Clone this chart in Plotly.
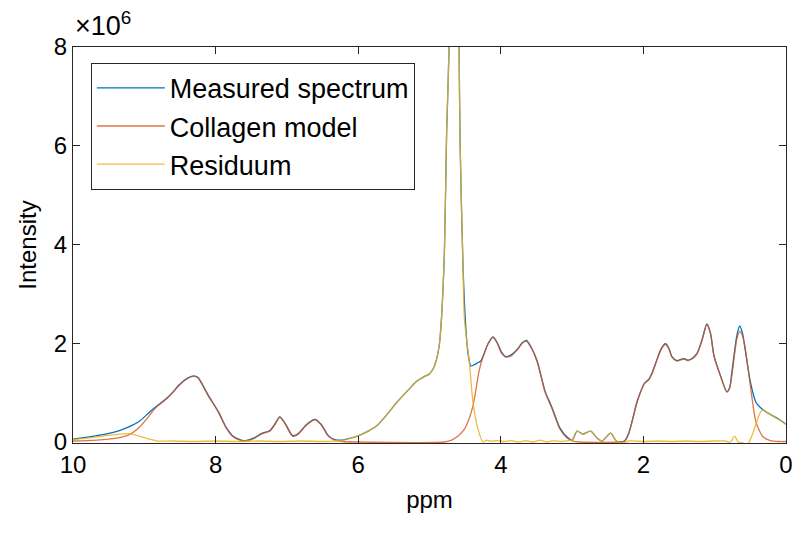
import plotly.graph_objects as go

# ---------------- data (ppm, intensity in units of 1e6) ----------------
model_ppm = [10.0, 9.8, 9.58, 9.35, 9.21, 9.07, 8.93, 8.85, 8.69, 8.60, 8.51, 8.40, 8.31, 8.25,
             8.10, 7.96, 7.85, 7.75, 7.64, 7.58, 7.45, 7.36, 7.24, 7.17, 7.10, 7.03, 6.92, 6.85,
             6.72, 6.61, 6.52, 6.42, 6.33, 6.22, 6.0, 4.80, 4.69, 4.60, 4.51, 4.45, 4.39, 4.35,
             4.31, 4.28, 4.25, 4.18, 4.11, 4.05, 3.99, 3.93, 3.85, 3.76, 3.70, 3.64, 3.57, 3.49,
             3.43, 3.38, 3.28, 3.17, 3.07, 2.99, 2.90, 2.35, 2.26, 2.21, 2.15, 2.10, 2.06, 1.99,
             1.92, 1.87, 1.82, 1.75, 1.69, 1.64, 1.60, 1.53, 1.48, 1.43, 1.38, 1.33, 1.25, 1.18,
             1.11, 1.06, 1.01, 0.92, 0.83, 0.79, 0.76, 0.69, 0.65, 0.61, 0.57, 0.50, 0.42, 0.32,
             0.22, 0.10, 0.0]
model_val = [0.02, 0.03, 0.05, 0.09, 0.15, 0.30, 0.53, 0.68, 0.87, 1.00, 1.15, 1.28, 1.33, 1.30,
             0.93, 0.60, 0.28, 0.10, 0.03, 0.02, 0.08, 0.16, 0.22, 0.35, 0.50, 0.38, 0.12, 0.15,
             0.35, 0.45, 0.35, 0.12, 0.04, 0.01, 0.0, 0.0, 0.04, 0.12, 0.26, 0.45, 0.73, 1.05,
             1.40, 1.58, 1.72, 1.98, 2.12, 2.00, 1.80, 1.72, 1.75, 1.88, 2.00, 2.04, 1.90, 1.62,
             1.30, 1.01, 0.67, 0.26, 0.08, 0.02, 0.0, 0.0, 0.02, 0.15, 0.46, 0.75, 0.93, 1.17,
             1.27, 1.42, 1.62, 1.88, 1.98, 1.88, 1.72, 1.64, 1.66, 1.68, 1.65, 1.67, 1.78, 2.05,
             2.38, 2.20, 1.74, 1.34, 1.01, 1.10, 1.34, 2.08, 2.24, 2.15, 1.88, 1.14, 0.40, 0.10,
             0.03, 0.01, 0.01]

measured_ppm = [10.0, 9.8, 9.58, 9.35, 9.21, 9.07, 8.93, 8.85, 8.69, 8.60, 8.51, 8.40, 8.31, 8.25,
                8.10, 7.96, 7.85, 7.75, 7.64, 7.58, 7.45, 7.36, 7.24, 7.17, 7.10, 7.03, 6.92, 6.85,
                6.72, 6.61, 6.52, 6.42, 6.33, 6.22, 6.10, 6.01, 5.90, 5.74, 5.60, 5.46, 5.30, 5.18,
                5.08, 5.01, 4.95, 4.90, 4.86, 4.83, 4.79, 4.76, 4.72, 4.69, 4.65, 4.61, 4.585, 4.57,
                4.53, 4.49, 4.46, 4.42, 4.38, 4.33, 4.28, 4.25, 4.18, 4.11, 4.05, 3.99, 3.93, 3.85,
                3.76, 3.70, 3.64, 3.57, 3.49, 3.43, 3.38, 3.28, 3.17, 3.07, 3.00, 2.93, 2.85, 2.74,
                2.65, 2.58, 2.46, 2.38, 2.30, 2.26, 2.21, 2.15, 2.10, 2.06, 1.99, 1.92, 1.87, 1.82,
                1.75, 1.69, 1.64, 1.60, 1.53, 1.48, 1.43, 1.38, 1.33, 1.25, 1.18, 1.11, 1.06, 1.01,
                0.92, 0.83, 0.79, 0.76, 0.69, 0.65, 0.61, 0.57, 0.50, 0.42, 0.36, 0.32, 0.22, 0.10,
                0.0]
measured_val = [0.06, 0.10, 0.15, 0.23, 0.31, 0.42, 0.60, 0.70, 0.88, 1.01, 1.16, 1.29, 1.34, 1.31,
                0.94, 0.61, 0.29, 0.11, 0.04, 0.03, 0.09, 0.17, 0.23, 0.36, 0.51, 0.39, 0.13, 0.16,
                0.36, 0.46, 0.36, 0.13, 0.05, 0.04, 0.08, 0.12, 0.19, 0.33, 0.55, 0.80, 1.05, 1.23,
                1.32, 1.37, 1.48, 1.68, 2.00, 2.55, 3.90, 6.26, 8.30, 14.0, 30.0, 14.0, 8.0, 6.0,
                3.56, 2.30, 1.80, 1.54, 1.56, 1.60, 1.64, 1.73, 1.99, 2.13, 2.01, 1.82, 1.73, 1.77,
                1.89, 2.01, 2.06, 1.91, 1.64, 1.31, 1.03, 0.69, 0.28, 0.10, 0.04, 0.22, 0.16, 0.22,
                0.08, 0.02, 0.18, 0.02, 0.0, 0.03, 0.16, 0.47, 0.76, 0.94, 1.18, 1.28, 1.43, 1.63,
                1.89, 1.99, 1.89, 1.73, 1.65, 1.67, 1.69, 1.66, 1.68, 1.79, 2.06, 2.39, 2.21, 1.75,
                1.35, 1.02, 1.10, 1.40, 2.15, 2.35, 2.20, 1.85, 1.22, 0.80, 0.70, 0.65, 0.56, 0.46,
                0.36]

resid_ppm = [10.0, 9.8, 9.58, 9.35, 9.21, 9.07, 8.93, 8.82, 8.6, 8.3, 8.0, 7.7, 7.4, 7.1, 6.8,
             6.5, 6.33, 6.22, 6.10, 6.01, 5.90, 5.74, 5.60, 5.46, 5.30, 5.18, 5.08, 5.01, 4.95,
             4.90, 4.86, 4.83, 4.79, 4.76, 4.72, 4.69, 4.65, 4.61, 4.585, 4.57, 4.53, 4.51, 4.44,
             4.39, 4.32, 4.25, 4.20, 4.15, 4.05, 3.95, 3.85, 3.75, 3.65, 3.55, 3.45, 3.35, 3.25,
             3.15, 3.05, 3.00, 2.93, 2.85, 2.74, 2.65, 2.58, 2.46, 2.38, 2.30, 2.20, 2.0, 1.8,
             1.6, 1.4, 1.2, 1.0, 0.85, 0.78, 0.72, 0.67, 0.60, 0.56, 0.50, 0.46, 0.40, 0.36,
             0.32, 0.28, 0.21, 0.10, 0.0]
resid_val = [0.05, 0.08, 0.12, 0.16, 0.17, 0.12, 0.06, 0.02, 0.02, 0.01, 0.02, 0.01, 0.02, 0.01,
             0.02, 0.01, 0.02, 0.03, 0.08, 0.12, 0.19, 0.33, 0.55, 0.80, 1.05, 1.23, 1.32, 1.37,
             1.48, 1.68, 2.00, 2.55, 3.90, 6.26, 8.30, 14.0, 30.0, 14.0, 8.0, 6.0, 3.56, 2.48,
             1.60, 0.80, 0.26, 0.0, 0.04, 0.02, 0.03, 0.01, 0.03, 0.0, 0.03, 0.0, 0.04, 0.0,
             0.03, 0.01, 0.03, 0.04, 0.22, 0.16, 0.22, 0.08, 0.02, 0.18, 0.02, -0.02, 0.02, 0.01,
             0.02, 0.01, 0.02, 0.01, 0.02, 0.02, 0.0, 0.12, 0.0, -0.02, -0.10, 0.05, 0.20, 0.45,
             0.60, 0.65, 0.62, 0.55, 0.45, 0.36]

x_ticks = [0, 2, 4, 6, 8, 10]
y_ticks = [0, 2, 4, 6, 8]

# ---------------- figure ----------------
FONT = "Liberation Sans, Arial, Helvetica, sans-serif"
AX = "#262626"
LINE = dict(width=1.3, shape="spline", smoothing=0.7)

fig = go.Figure()
fig.add_trace(go.Scatter(x=measured_ppm, y=measured_val, mode="lines",
                         name="Measured spectrum",
                         line=dict(color="#0072BD", **LINE)))
fig.add_trace(go.Scatter(x=model_ppm, y=model_val, mode="lines",
                         name="Collagen model", opacity=0.8,
                         line=dict(color="#D95319", **LINE)))
fig.add_trace(go.Scatter(x=resid_ppm, y=resid_val, mode="lines",
                         name="Residuum", opacity=0.85,
                         line=dict(color="#EDB120", **LINE)))

fig.update_layout(
    width=804, height=533,
    margin=dict(l=73, r=11, t=47, b=90),
    paper_bgcolor="white", plot_bgcolor="white",
    font=dict(family=FONT, size=24, color="black"),
    showlegend=True,
    legend=dict(x=0.025, y=0.96, xanchor="left", yanchor="top",
                bgcolor="white", bordercolor=AX, borderwidth=1,
                font=dict(size=27, family=FONT, color="black"),
                itemwidth=68, tracegroupgap=0),
    xaxis=dict(range=[10, 0], tickvals=x_ticks, ticktext=[str(v) for v in x_ticks],
               ticks="inside", ticklen=7, tickcolor=AX, tickwidth=1,
               showline=True, linecolor=AX, linewidth=1, mirror="ticks",
               showgrid=False, zeroline=False,
               tickfont=dict(size=24, family=FONT, color="black"),
               title=dict(text="ppm", font=dict(size=24, family=FONT, color="black"), standoff=14)),
    yaxis=dict(range=[-0.02, 8], tickvals=y_ticks, ticktext=[str(v) for v in y_ticks],
               ticks="inside", ticklen=7, tickcolor=AX, tickwidth=1,
               showline=True, linecolor=AX, linewidth=1, mirror="ticks",
               showgrid=False, zeroline=False,
               tickfont=dict(size=24, family=FONT, color="black"),
               title=dict(text="Intensity", font=dict(size=24, family=FONT, color="black"), standoff=10)),
    annotations=[dict(text="×10<sup>6</sup>", xref="paper", yref="paper",
                      x=0.0, y=1.01, xanchor="left", yanchor="bottom", showarrow=False,
                      font=dict(size=27, family=FONT, color="black"))],
)

fig.write_html("out.html")
